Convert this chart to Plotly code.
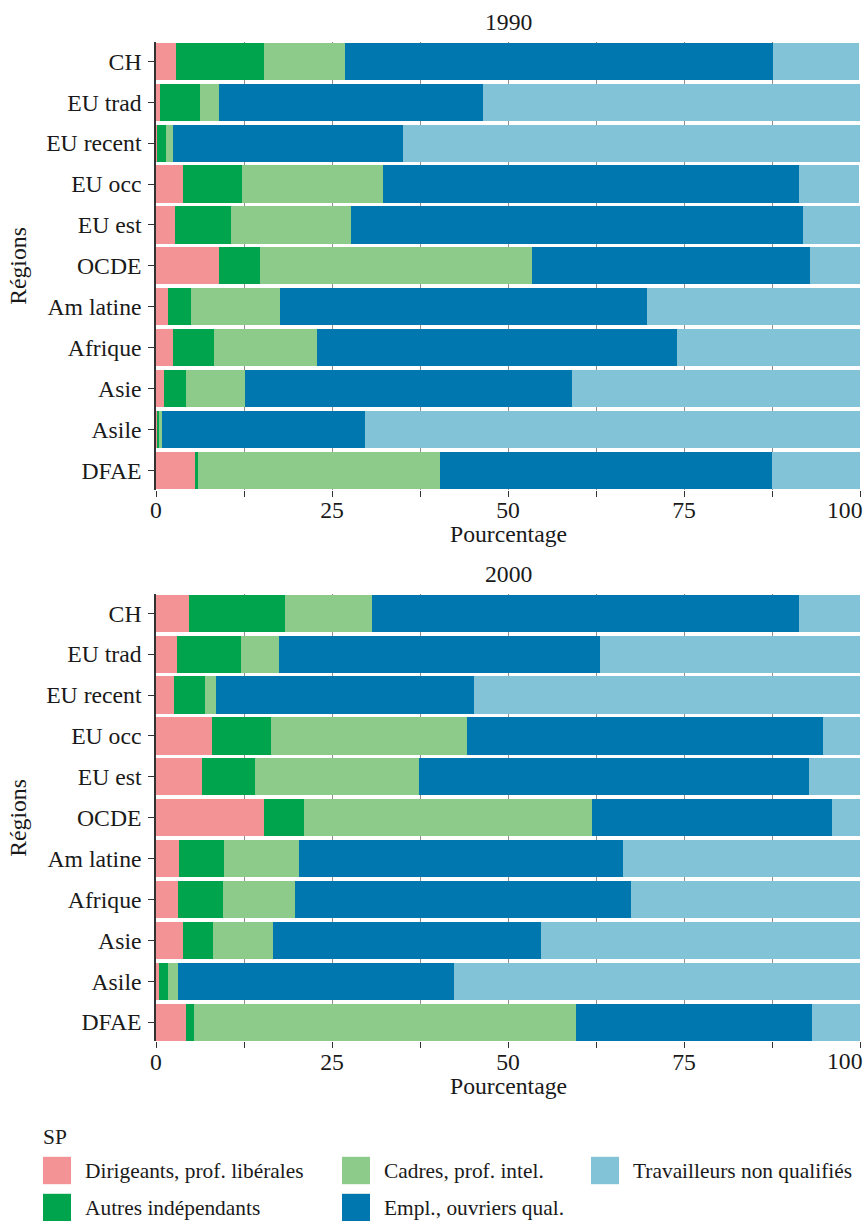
import plotly.graph_objects as go

regions = ["CH", "EU trad", "EU recent", "EU occ", "EU est", "OCDE",
           "Am latine", "Afrique", "Asie", "Asile", "DFAE"]
categories = ["Dirigeants, prof. libérales", "Autres indépendants",
              "Cadres, prof. intel.", "Empl., ouvriers qual.",
              "Travailleurs non qualifiés"]
colors = ["#F49396", "#00A44C", "#8DCB8A", "#0077AE", "#82C3D7"]
years = ["1990", "2000"]

dir_1990 = [2.9, 0.6, 0.2, 3.8, 2.7, 9.0, 1.7, 2.4, 1.1, 0.15, 5.5]
aut_1990 = [12.4, 5.7, 1.2, 8.4, 8.0, 5.8, 3.3, 5.8, 3.1, 0.3, 0.4]
cad_1990 = [11.5, 2.6, 1.0, 20.0, 17.0, 38.6, 12.6, 14.6, 8.4, 0.4, 34.5]
emp_1990 = [60.9, 37.6, 32.7, 59.2, 64.2, 39.5, 52.1, 51.2, 46.5, 28.8, 47.1]
tra_1990 = [12.2, 53.5, 64.9, 8.5, 8.1, 7.1, 30.3, 26.0, 40.9, 70.35, 12.5]

dir_2000 = [4.7, 3.0, 2.6, 8.0, 6.5, 15.3, 3.3, 3.1, 3.8, 0.4, 4.3]
aut_2000 = [13.6, 9.1, 4.3, 8.4, 7.5, 5.7, 6.4, 6.4, 4.3, 1.3, 1.1]
cad_2000 = [12.4, 5.3, 1.6, 27.8, 23.3, 40.9, 10.6, 10.2, 8.5, 1.4, 54.3]
emp_2000 = [60.7, 45.7, 36.6, 50.6, 55.4, 34.1, 46.0, 47.7, 38.1, 39.2, 33.5]
tra_2000 = [8.6, 36.9, 54.9, 5.2, 7.3, 4.0, 33.7, 32.6, 45.3, 57.7, 6.8]

x_ticks = [0, 25, 50, 75]
x_last_tick = 100

data = {
    "1990": [dir_1990, aut_1990, cad_1990, emp_1990, tra_1990],
    "2000": [dir_2000, aut_2000, cad_2000, emp_2000, tra_2000],
}

FONT = "Liberation Serif"
AX = 23.7
LG = 21.4
TXT = "#1a1a1a"
fig = go.Figure()

for yi, yr in enumerate(years):
    xa = "x" if yi == 0 else "x2"
    ya = "y" if yi == 0 else "y2"
    for ci, cat in enumerate(categories):
        fig.add_trace(go.Bar(
            x=data[yr][ci], y=regions, orientation="h",
            name=cat, marker=dict(color=colors[ci], line=dict(width=0)),
            xaxis=xa, yaxis=ya, showlegend=False,
        ))

H = 1221.0
W = 864.0
L, R = 156, 4
PW = W - L - R


def py(v):
    return 1 - v / H


def px(v):
    return (v - L) / PW


top_px = (42.1, 489.5)
bot_px = (594.1, 1041.4)
top_dom = [py(top_px[1]), py(top_px[0])]
bot_dom = [py(bot_px[1]), py(bot_px[0])]

xcommon = dict(
    range=[0, 100], tickvals=x_ticks, ticks="outside", ticklen=6, tickwidth=1.3,
    tickcolor="#333333", showline=False, zeroline=False,
    showgrid=True, gridcolor="#8f8f8f", gridwidth=1.3,
    minor=dict(dtick=12.5, tick0=0, ticks="outside", ticklen=6, tickwidth=1.3,
               tickcolor="#333333", showgrid=True, gridcolor="#8f8f8f", gridwidth=1.3),
    tickfont=dict(family=FONT, size=AX, color=TXT),
    ticklabelstandoff=-7,
    automargin=False, fixedrange=True,
)
ycommon = dict(
    categoryorder="array", categoryarray=regions, range=[10.47, -0.47],
    ticks="outside", ticklen=6, tickwidth=1.3, tickcolor="#333333",
    showline=True, linecolor="#333333", linewidth=1.5, showgrid=False, zeroline=False,
    tickfont=dict(family=FONT, size=AX, color=TXT),
    ticklabelstandoff=2,
    automargin=False, fixedrange=True,
)

fig.update_layout(
    width=864, height=1221,
    margin=dict(l=L, r=R, t=0, b=0, autoexpand=False),
    paper_bgcolor="white", plot_bgcolor="white",
    barmode="stack", bargap=0.09,
    font=dict(family=FONT, size=AX, color=TXT),
    xaxis=dict(domain=[0, 1], anchor="y", **xcommon),
    yaxis=dict(domain=top_dom, anchor="x", **ycommon),
    xaxis2=dict(domain=[0, 1], anchor="y2", **xcommon),
    yaxis2=dict(domain=bot_dom, anchor="x2", **ycommon),
    showlegend=False,
)

# titles, axis titles, last tick label
for yr, (t, b), xr in zip(years, [top_px, bot_px], ["x", "x2"]):
    fig.add_annotation(text=yr, xref="paper", yref="paper", x=0.5, y=py(t - 20),
                       xanchor="center", yanchor="middle", showarrow=False,
                       font=dict(family=FONT, size=AX, color=TXT))
    fig.add_annotation(text="Pourcentage", xref="paper", yref="paper", x=0.5, y=py(b + 44.5),
                       xanchor="center", yanchor="middle", showarrow=False,
                       font=dict(family=FONT, size=AX, color=TXT))
    fig.add_annotation(text="Régions", xref="paper", yref="paper", x=px(18), y=py((t + b) / 2),
                       xanchor="center", yanchor="middle", textangle=-90, showarrow=False,
                       font=dict(family=FONT, size=AX, color=TXT))
    fig.add_annotation(text=str(x_last_tick), xref=xr, yref="paper", x=x_last_tick,
                       y=py(b + 20), xanchor="right", yanchor="middle", xshift=5,
                       showarrow=False, font=dict(family=FONT, size=AX, color=TXT))

# custom legend
row_y = [1170.5, 1207.5]
col_x = [43, 342, 591]
order = [0, 2, 4, 1, 3]  # row-major placement of categories
fig.add_annotation(text="SP", xref="paper", yref="paper",
                   x=px(41), y=py(1137),
                   xanchor="left", yanchor="middle", showarrow=False,
                   font=dict(family=FONT, size=LG, color=TXT))
for k, ci in enumerate(order):
    r, c = divmod(k, 3)
    x0 = col_x[c]
    yc = row_y[r]
    fig.add_shape(type="rect", xref="paper", yref="paper",
                  x0=px(x0), x1=px(x0 + 28),
                  y0=py(yc - 13.7), y1=py(yc + 13.7),
                  fillcolor=colors[ci], line=dict(width=0))
    fig.add_annotation(text=categories[ci], xref="paper", yref="paper",
                       x=px(x0 + 40), y=py(yc),
                       xanchor="left", yanchor="middle", showarrow=False,
                       font=dict(family=FONT, size=LG, color=TXT))

fig.write_html(
    "out.html",
    config={"displayModeBar": False},
    post_script="document.body.style.margin='0';document.body.style.overflow='hidden';",
)
